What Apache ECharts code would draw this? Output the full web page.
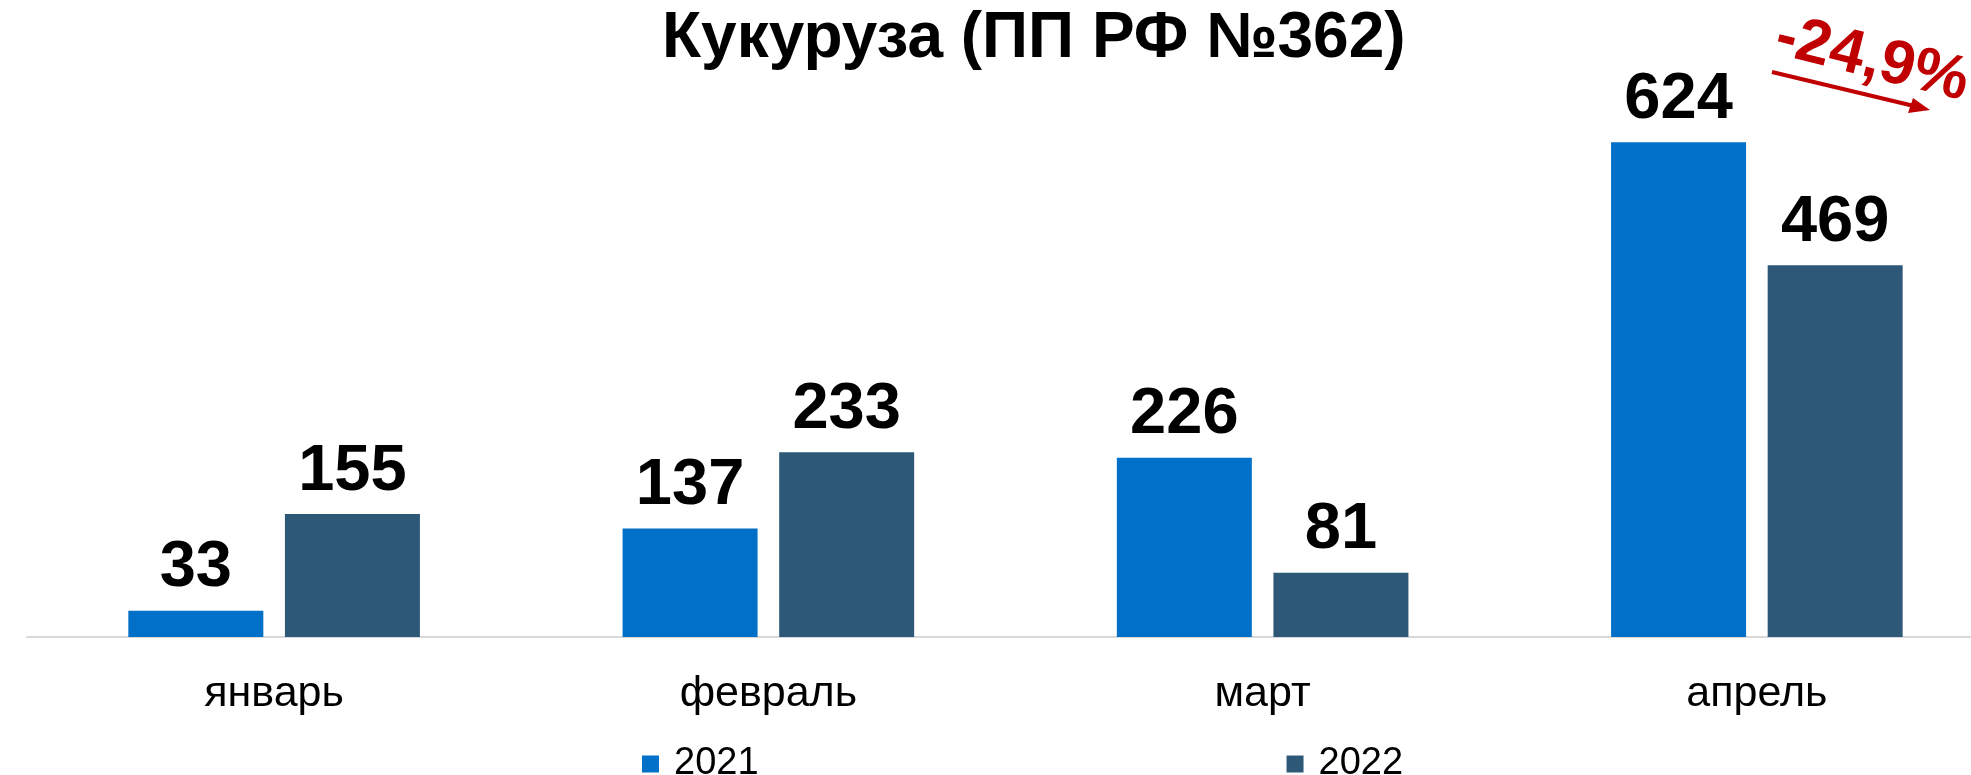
<!DOCTYPE html>
<html>
<head>
<meta charset="utf-8">
<script src="https://cdn.jsdelivr.net/npm/echarts@6/dist/echarts.min.js"></script>
<style>
	html, body {margin: 0; padding: 0; background: #fff;}
	#chart {width: 1971px; height: 775px;}
</style>
</head>
<body>
<div id="chart"></div>
<script>
'use strict';
var months = ['январь', 'февраль', 'март', 'апрель'];
var years = ['2021', '2022'];
var values2021 = [33, 137, 226, 624];
var values2022 = [155, 233, 81, 469];
var changeText = '-24,9%';

var font = '"Liberation Sans", Arial, sans-serif';
var myChart = echarts.init(document.getElementById('chart'));
var option = {
	animation: false,
	title: {
		text: 'Кукуруза (ПП РФ №362)',
		left: 657,
		top: 2,
		textStyle: {fontFamily: font, fontSize: 64, fontWeight: 'bold', color: '#000'}
	},
	legend: {
		data: years,
		left: 637,
		top: 740,
		itemWidth: 17,
		itemHeight: 17,
		itemGap: 528,
		icon: 'rect',
		textStyle: {fontFamily: font, fontSize: 38, color: '#000', padding: [0, 0, 0, 10]}
	},
	grid: {left: 27, width: 1977, top: 82, bottom: 138, outerBoundsMode: 'none'},
	xAxis: {
		type: 'category',
		data: months,
		axisLine: {lineStyle: {color: '#d9d9d9', width: 2}},
		axisTick: {show: false},
		axisLabel: {fontFamily: font, fontSize: 43, color: '#000', margin: 36}
	},
	yAxis: {
		type: 'value',
		min: 0,
		max: 700,
		show: false
	},
	series: [
		{
			name: '2021',
			type: 'bar',
			data: values2021,
			barWidth: 135,
			barGap: '16%',
			itemStyle: {color: '#0070c8'},
			label: {show: true, position: 'top', distance: 10, fontFamily: font, fontSize: 65, fontWeight: 'bold', color: '#000'}
		},
		{
			name: '2022',
			type: 'bar',
			data: values2022,
			barWidth: 135,
			barGap: '16%',
			itemStyle: {color: '#2e5878'},
			label: {show: true, position: 'top', distance: 10, fontFamily: font, fontSize: 65, fontWeight: 'bold', color: '#000'}
		}
	],
	// красная подпись со стрелкой
	graphic: [
		{
			type: 'text',
			x: 1872,
			y: 60,
			rotation: -14 * Math.PI / 180,
			style: {
				text: changeText,
				fontFamily: font,
				fontSize: 62,
				fontWeight: 'bold',
				fill: '#c00000',
				align: 'center',
				verticalAlign: 'middle'
			}
		},
		{
			type: 'line',
			shape: {x1: 1772, y1: 72, x2: 1914, y2: 106},
			style: {stroke: '#c00000', lineWidth: 4}
		},
		{
			type: 'polygon',
			shape: {points: [[1930, 110], [1908, 113], [1913, 98]]},
			style: {fill: '#c00000'}
		}
	]
};
myChart.setOption(option);
</script>
</body>
</html>
